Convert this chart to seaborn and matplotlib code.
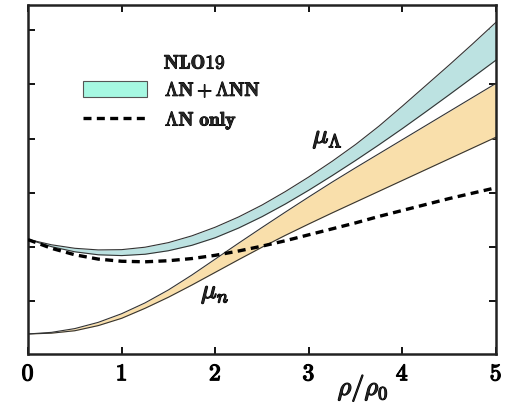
import numpy as np
import pandas as pd
import matplotlib
matplotlib.use("Agg")
import matplotlib.pyplot as plt
import matplotlib.patheffects as pe
from matplotlib.patches import Patch
from matplotlib.lines import Line2D
import seaborn as sns

# density grid rho/rho0
rho = [0.0, 0.25, 0.5, 0.75, 1.0, 1.25, 1.5, 1.75, 2.0, 2.25, 2.5,
       2.75, 3.0, 3.25, 3.5, 3.75, 4.0, 4.25, 4.5, 4.75, 5.0]

# Lambda chemical potential band (AN + ANN)
mu_lambda_hi = [1.135, 1.035, 0.97, 0.94, 0.945, 0.99, 1.075, 1.20, 1.36, 1.55, 1.77,
                2.02, 2.29, 2.58, 2.89, 3.23, 3.60, 3.98, 4.36, 4.75, 5.15]
mu_lambda_lo = [1.135, 1.00, 0.905, 0.85, 0.835, 0.86, 0.925, 1.025, 1.165, 1.345, 1.555,
                1.79, 2.045, 2.315, 2.595, 2.885, 3.185, 3.495, 3.81, 4.13, 4.45]

# neutron chemical potential band
mu_n_hi = [-0.615, -0.585, -0.515, -0.40, -0.24, -0.04, 0.20, 0.475, 0.77, 1.065, 1.355,
           1.64, 1.92, 2.195, 2.46, 2.72, 2.98, 3.24, 3.50, 3.76, 4.02]
mu_n_lo = [-0.615, -0.60, -0.555, -0.46, -0.325, -0.14, 0.065, 0.29, 0.525, 0.76, 0.99,
           1.21, 1.42, 1.625, 1.825, 2.025, 2.225, 2.425, 2.625, 2.825, 3.025]

# Lambda chemical potential, AN interaction only
mu_lambda_an = [1.13, 0.97, 0.85, 0.77, 0.73, 0.72, 0.74, 0.78, 0.84, 0.92, 1.01,
                1.11, 1.22, 1.33, 1.44, 1.56, 1.67, 1.78, 1.89, 1.99, 2.09]

x_ticks = [0, 1, 2, 3, 4, 5]
y_ticks = [0, 1, 2, 3, 4, 5]

sns.set_style("ticks")
plt.rcParams["mathtext.fontset"] = "cm"
plt.rcParams["font.family"] = ["DejaVu Serif"]

df = pd.DataFrame({"rho": rho, "lam_hi": mu_lambda_hi, "lam_lo": mu_lambda_lo,
                   "n_hi": mu_n_hi, "n_lo": mu_n_lo, "an": mu_lambda_an})

fig = plt.figure(figsize=(5.10, 4.04), dpi=100)
ax = fig.add_axes([0.055, 0.1238, 0.9175, 0.8638])

teal = "#bce2e1"
orange = "#f9dfab"
edge = "#333333"

ax.fill_between(df["rho"], df["lam_lo"], df["lam_hi"], color=teal, lw=0, zorder=1)
ax.fill_between(df["rho"], df["n_lo"], df["n_hi"], color=orange, lw=0, zorder=1)
for col in ["lam_hi", "lam_lo", "n_hi", "n_lo"]:
    sns.lineplot(data=df, x="rho", y=col, ax=ax, color=edge, lw=0.8, zorder=2)
sns.lineplot(data=df, x="rho", y="an", ax=ax, color="black", lw=2.4, zorder=3,
             dashes=False)
ax.lines[-1].set_dashes((2.4, 1.6))

ax.set_xlim(0, 5)
ax.set_ylim(-0.985, 5.47)
ax.set_xticks(x_ticks)
ax.set_xticklabels([r"$\mathbf{%d}$" % t for t in x_ticks], fontsize=17)
ax.set_yticks(y_ticks)
ax.set_yticklabels([])
ax.set_xlabel("")
ax.set_ylabel("")
ax.tick_params(direction="in", length=5, width=1.3, top=True, right=True,
               labelbottom=True, pad=6, colors="black")
for s in ax.spines.values():
    s.set_linewidth(1.8)
    s.set_color("#222222")

bold_big = [pe.withStroke(linewidth=0.9, foreground="black")]
bold_small = [pe.withStroke(linewidth=0.7, foreground="black")]
for lab in ax.get_xticklabels():
    lab.set_path_effects(bold_big)

ax.text(3.58, -1.62, r"$\rho/\rho_0$", fontsize=19, ha="center", va="center",
        path_effects=bold_big, clip_on=False)
ax.text(3.2, 3.02, r"$\mu_\Lambda$", fontsize=19, ha="center", va="center",
        path_effects=bold_big)
ax.text(2.0, 0.15, r"$\mu_n$", fontsize=19, ha="center", va="center",
        path_effects=bold_big)

handles = [Patch(facecolor="#a6f8e2", edgecolor="#555555", lw=0.8),
           Line2D([], [], color="black", lw=2.4, dashes=(2.4, 1.6))]
labels = [r"$\mathbf{\Lambda N + \Lambda NN}$", r"$\mathbf{\Lambda N\ only}$"]
leg = ax.legend(handles, labels, loc="upper left", bbox_to_anchor=(0.118, 0.782),
                frameon=False, fontsize=14, handlelength=3.3, handleheight=0.9,
                handletextpad=0.9, labelspacing=0.5, borderpad=0, borderaxespad=0)
for t in leg.get_texts():
    t.set_path_effects(bold_small)
ax.text(0.29, 0.832, r"$\mathbf{NLO19}$", transform=ax.transAxes, fontsize=14,
        ha="left", va="center", path_effects=bold_small)

fig.savefig("out.png", dpi=100)
